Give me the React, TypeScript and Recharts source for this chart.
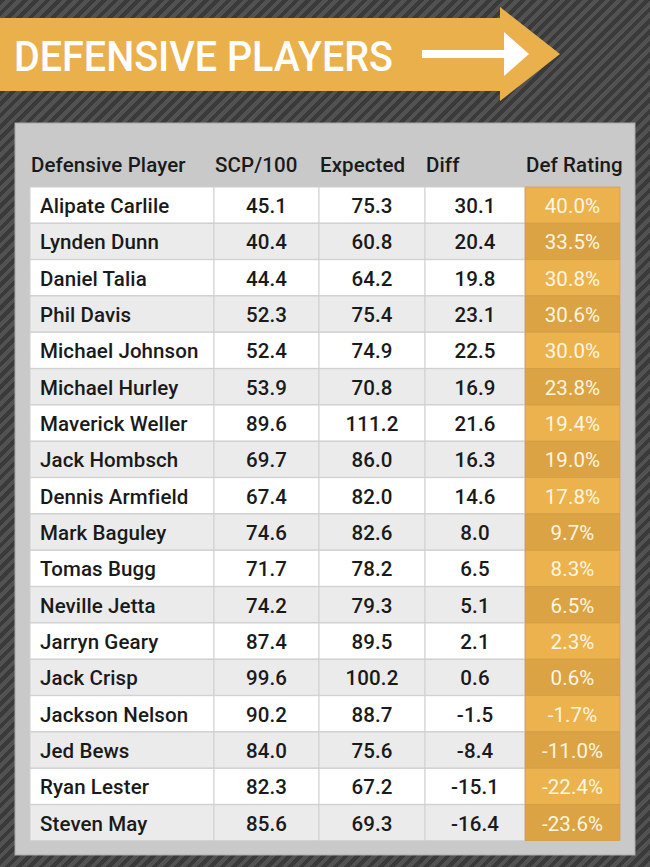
import React from 'react';
import { BarChart, Bar, XAxis, YAxis } from 'recharts';

const players = [
  'Alipate Carlile', 'Lynden Dunn', 'Daniel Talia', 'Phil Davis', 'Michael Johnson',
  'Michael Hurley', 'Maverick Weller', 'Jack Hombsch', 'Dennis Armfield', 'Mark Baguley',
  'Tomas Bugg', 'Neville Jetta', 'Jarryn Geary', 'Jack Crisp', 'Jackson Nelson',
  'Jed Bews', 'Ryan Lester', 'Steven May',
];
const scpPer100 = [45.1, 40.4, 44.4, 52.3, 52.4, 53.9, 89.6, 69.7, 67.4, 74.6, 71.7, 74.2, 87.4, 99.6, 90.2, 84.0, 82.3, 85.6];
const expected = [75.3, 60.8, 64.2, 75.4, 74.9, 70.8, 111.2, 86.0, 82.0, 82.6, 78.2, 79.3, 89.5, 100.2, 88.7, 75.6, 67.2, 69.3];
const diff = [30.1, 20.4, 19.8, 23.1, 22.5, 16.9, 21.6, 16.3, 14.6, 8.0, 6.5, 5.1, 2.1, 0.6, -1.5, -8.4, -15.1, -16.4];
const defRating = [40.0, 33.5, 30.8, 30.6, 30.0, 23.8, 19.4, 19.0, 17.8, 9.7, 8.3, 6.5, 2.3, 0.6, -1.7, -11.0, -22.4, -23.6];
const headers = ['Defensive Player', 'SCP/100', 'Expected', 'Diff', 'Def Rating'];
const title = 'DEFENSIVE PLAYERS';

const rows = players.map((name, i) => ({
  name,
  scp: scpPer100[i],
  expected: expected[i],
  diff: diff[i],
  rating: defRating[i],
}));

const W = 650;
const H = 867;
// column edges of the table cells
const COLS = [30, 214, 319, 425, 525, 620];
const FONT = 'Roboto, "DejaVu Sans", sans-serif';
const ORANGE = '#e9b04b';
const TXT = { fontFamily: FONT, fontSize: 20.5, fontWeight: 500, letterSpacing: 0.1 };

const RowShape = (props: any) => {
  const { y, height, payload, index } = props;
  const even = index % 2 === 0;
  const fill = even ? '#ffffff' : '#ebebeb';
  const rateFill = even ? '#ebb24d' : '#dba344';
  const cy = y + height / 2 + 1;
  const vals = [payload.scp.toFixed(1), payload.expected.toFixed(1), payload.diff.toFixed(1)];
  return (
    <g>
      {[0, 1, 2, 3].map((c) => (
        <rect
          key={c}
          x={COLS[c]}
          y={y}
          width={COLS[c + 1] - COLS[c]}
          height={height}
          fill={fill}
          stroke="#d0d0d0"
          strokeWidth={1}
        />
      ))}
      <rect x={COLS[4]} y={y} width={COLS[5] - COLS[4]} height={height} fill={rateFill} stroke="#d19a3e" strokeWidth={0.6} />
      <text x={COLS[0] + 10} y={cy} dominantBaseline="central" {...TXT} fill="#1a1a1a">
        {payload.name}
      </text>
      {vals.map((v, c) => (
        <text
          key={c}
          x={(COLS[c + 1] + COLS[c + 2]) / 2}
          y={cy}
          textAnchor="middle"
          dominantBaseline="central"
          {...TXT}
          fill="#1a1a1a"
        >
          {v}
        </text>
      ))}
      <text
        x={(COLS[4] + COLS[5]) / 2}
        y={cy}
        textAnchor="middle"
        dominantBaseline="central"
        {...TXT}
        fontWeight={400}
        fill="#fff6e0"
      >
        {payload.rating.toFixed(1) + '%'}
      </text>
    </g>
  );
};

export default function App() {
  return (
    <div
      style={{
        position: 'absolute',
        left: 0,
        top: 0,
        width: W,
        height: H,
        background: 'repeating-linear-gradient(135deg, #3a3a3a 0px, #3a3a3a 4px, #525252 4px, #525252 8px)',
      }}
    >
      <svg width={W} height={H} style={{ position: 'absolute', left: 0, top: 0 }}>
        <path d="M0,18 L500,18 L500,7 L560,54 L500,101 L500,91 L0,91 Z" fill={ORANGE} />
        <text
          x={14}
          y={71}
          fontFamily={FONT}
          fontSize={42}
          fontWeight={500}
          fill="#ffffff"
          textLength={379}
          lengthAdjust="spacingAndGlyphs"
        >
          {title}
        </text>
        <rect x={422} y={50} width={86} height={8} fill="#ffffff" />
        <path d="M504,32 L529,54 L504,76 Z" fill="#ffffff" />
        <rect x={15} y={123} width={620} height={732} fill="#c9c9c9" stroke="#a8a8a8" strokeWidth={1} />
        {headers.map((h, i) => (
          <text key={h} x={COLS[i] + 1} y={172} {...TXT} fill="#1a1a1a">
            {h}
          </text>
        ))}
      </svg>
      <div style={{ position: 'absolute', left: 0, top: 0 }}>
        <BarChart
          width={W}
          height={H}
          data={rows}
          layout="vertical"
          barCategoryGap={0}
          margin={{ top: 187, right: 30, bottom: 26, left: 30 }}
        >
          <XAxis type="number" hide domain={[-30, 50]} />
          <YAxis type="category" dataKey="name" hide />
          <Bar dataKey="rating" shape={RowShape} isAnimationActive={false} />
        </BarChart>
      </div>
    </div>
  );
}
